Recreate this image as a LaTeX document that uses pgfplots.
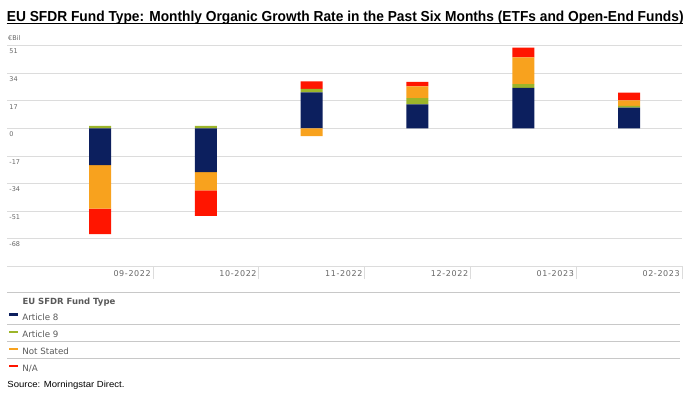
\documentclass[border=0pt]{standalone}
\usepackage{pgfplots}
\pgfplotsset{compat=1.18}
\usepackage{pgfplotstable}
\usepackage{fontspec}
\usepackage{graphicx}
\setmainfont{DejaVu Sans}
\newfontfamily\dejavu{DejaVu Sans}
\newfontfamily\dejavuwide{DejaVu Sans}[LetterSpace=8]
\newfontfamily\narrow{Liberation Sans}
\definecolor{cnavy}{HTML}{0C1F5E}
\definecolor{cgreen}{HTML}{9CB52A}
\definecolor{corange}{HTML}{F8A21E}
\definecolor{cred}{HTML}{FF1500}
\definecolor{gridgray}{HTML}{DCDCDC}
\definecolor{sepgray}{HTML}{C8C8C8}
\definecolor{labelgray}{HTML}{666666}
\definecolor{leggray}{HTML}{595959}

% positive parts: Article 8, Article 9, Not Stated, N/A
\pgfplotstableread{
x a8 a9 ns na
0 0 1.5 0 0
1 0 1.5 0 0
2 22.2 2.1 0 4.7
3 14.8 3.9 7.2 2.7
4 24.9 2.3 16.6 6.0
5 12.8 1.0 3.5 4.7
}\postable
% negative parts
\pgfplotstableread{
x a8 a9 ns na
0 -22.8 0 -26.8 -15.8
1 -27.0 0 -11.3 -15.8
2 0 0 -4.9 0
3 0 0 0 0
4 0 0 0 0
5 0 0 0 0
}\negtable

\pgfplotsset{
  basegeom/.style={
    at={(7.3pt,130pt)}, anchor=south west,
    scale only axis, width=674.7pt, height=220.3pt,
    xmin=-0.877, xmax=5.5, ymin=-85, ymax=51,
    ybar stacked, bar width=22pt,
  },
}

\begin{document}
\begin{tikzpicture}
\path[use as bounding box] (0,0) rectangle (695pt,396pt);

\begin{axis}[
  basegeom,
  axis line style={draw=none},
  ytick={-85,-68,-51,-34,-17,0,17,34,51},
  yticklabels={,-68,-51,-34,-17,0,17,34,51},
  ymajorgrids,
  grid style={color=gridgray, line width=0.6pt},
  ytick style={draw=none},
  xtick={0.5,1.5,2.5,3.5,4.5,5.5},
  xticklabels={09-2022,10-2022,11-2022,12-2022,01-2023,02-2023},
  xtick pos=bottom,
  tick align=outside,
  major tick length=13pt,
  xtick style={color=gridgray, line width=0.6pt},
  xticklabel style={anchor=north east, font=\dejavuwide\fontsize{8}{9}\selectfont, text=labelgray, inner sep=0pt, xshift=-2pt, yshift=9pt},
  yticklabel style={anchor=north west, font=\dejavu\fontsize{6.5}{7}\selectfont, text=labelgray, inner sep=0pt, xshift=15pt, yshift=-3.3pt},
  legend image code/.code={\fill[#1] (0pt,1.8pt) rectangle (9pt,4.3pt);},
  legend cell align=left,
  legend style={at={(axis description cs:0.003,-0.2156)}, anchor=north west,
    draw=none, fill=none, inner sep=0pt, outer sep=0pt,
    row sep=8.7pt, column sep=4pt,
    nodes={inner sep=0pt, text height=6.5pt, text depth=1.5pt,
      font=\dejavu\fontsize{8.7}{10}\selectfont, text=leggray}},
]
\addplot[fill=cnavy, draw=none] table[x=x, y=a8] {\postable};
\addlegendentry{Article 8}
\addplot[fill=cgreen, draw=none] table[x=x, y=a9] {\postable};
\addlegendentry{Article 9}
\addplot[fill=corange, draw=none] table[x=x, y=ns] {\postable};
\addlegendentry{Not Stated}
\addplot[fill=cred, draw=none] table[x=x, y=na] {\postable};
\addlegendentry{N/A}
\end{axis}

\begin{axis}[basegeom, hide axis]
\addplot[fill=cnavy, draw=none] table[x=x, y=a8] {\negtable};
\addplot[fill=cgreen, draw=none] table[x=x, y=a9] {\negtable};
\addplot[fill=corange, draw=none] table[x=x, y=ns] {\negtable};
\addplot[fill=cred, draw=none] table[x=x, y=na] {\negtable};
\end{axis}

% title
\node[anchor=base west, inner sep=0pt] at (6.7pt,374.7pt)
  {\resizebox{676.6pt}{10.5pt}{\narrow\bfseries EU SFDR Fund Type: Monthly Organic Growth Rate in the Past Six Months (ETFs and Open-End Funds)}};
\draw[black, line width=1.4pt] (6.7pt,372.5pt) -- (683.3pt,372.5pt);

% unit label
\node[anchor=west, inner sep=0pt, text=labelgray, font=\dejavu\fontsize{6.5}{7}\selectfont] at (8pt,357.7pt) {€Bil};

% legend frame lines and title
\draw[sepgray, line width=0.7pt] (7.3pt,103.7pt) -- (680pt,103.7pt);
\draw[sepgray, line width=0.7pt] (7.3pt,71.3pt) -- (680pt,71.3pt);
\draw[sepgray, line width=0.7pt] (7.3pt,54.3pt) -- (680pt,54.3pt);
\draw[sepgray, line width=0.7pt] (7.3pt,37.7pt) -- (680pt,37.7pt);
\node[anchor=base west, inner sep=0pt, text=leggray, font=\dejavu\bfseries\fontsize{8.5}{10}\selectfont] at (22.3pt,91.7pt) {EU SFDR Fund Type};

% source
\node[anchor=base west, inner sep=0pt] at (7.3pt,8.3pt)
  {\resizebox{117pt}{6.4pt}{\narrow Source: Morningstar Direct.}};
\end{tikzpicture}
\end{document}
